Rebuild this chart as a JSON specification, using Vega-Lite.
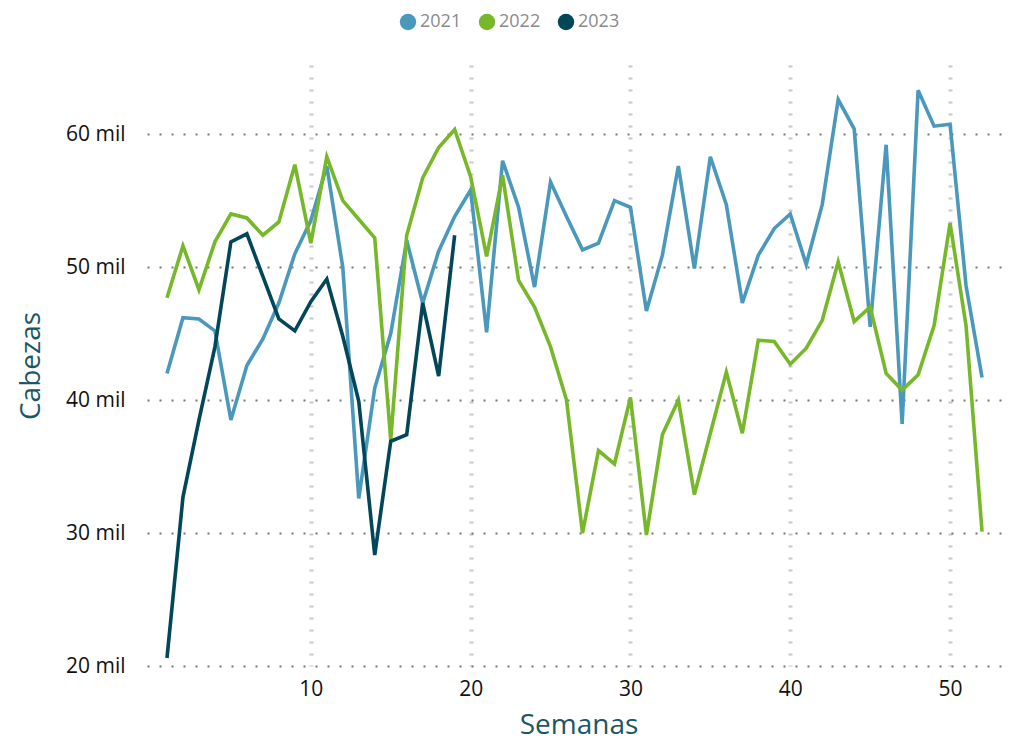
{
  "$schema": "https://vega.github.io/schema/vega-lite/v6.json",
  "width": 863,
  "height": 601,
  "autosize": {"type": "none"},
  "padding": {"left": 147, "top": 65, "right": 3, "bottom": 74},
  "background": "white",
  "config": {
    "view": {"stroke": null},
    "font": "Open Sans"
  },
  "data": {
    "values": [
      {"Semana":1,"Año":"2021","Cabezas":42000},{"Semana":2,"Año":"2021","Cabezas":46200},{"Semana":3,"Año":"2021","Cabezas":46100},{"Semana":4,"Año":"2021","Cabezas":45200},{"Semana":5,"Año":"2021","Cabezas":38500},{"Semana":6,"Año":"2021","Cabezas":42600},{"Semana":7,"Año":"2021","Cabezas":44600},{"Semana":8,"Año":"2021","Cabezas":47300},{"Semana":9,"Año":"2021","Cabezas":51000},{"Semana":10,"Año":"2021","Cabezas":53500},{"Semana":11,"Año":"2021","Cabezas":57600},{"Semana":12,"Año":"2021","Cabezas":50000},{"Semana":13,"Año":"2021","Cabezas":32600},{"Semana":14,"Año":"2021","Cabezas":40900},{"Semana":15,"Año":"2021","Cabezas":45000},{"Semana":16,"Año":"2021","Cabezas":52000},{"Semana":17,"Año":"2021","Cabezas":47300},{"Semana":18,"Año":"2021","Cabezas":51200},{"Semana":19,"Año":"2021","Cabezas":53800},{"Semana":20,"Año":"2021","Cabezas":55800},{"Semana":21,"Año":"2021","Cabezas":45100},{"Semana":22,"Año":"2021","Cabezas":58000},{"Semana":23,"Año":"2021","Cabezas":54500},{"Semana":24,"Año":"2021","Cabezas":48500},{"Semana":25,"Año":"2021","Cabezas":56400},{"Semana":26,"Año":"2021","Cabezas":53800},{"Semana":27,"Año":"2021","Cabezas":51300},{"Semana":28,"Año":"2021","Cabezas":51800},{"Semana":29,"Año":"2021","Cabezas":55000},{"Semana":30,"Año":"2021","Cabezas":54500},{"Semana":31,"Año":"2021","Cabezas":46700},{"Semana":32,"Año":"2021","Cabezas":50900},{"Semana":33,"Año":"2021","Cabezas":57600},{"Semana":34,"Año":"2021","Cabezas":49900},{"Semana":35,"Año":"2021","Cabezas":58300},{"Semana":36,"Año":"2021","Cabezas":54700},{"Semana":37,"Año":"2021","Cabezas":47300},{"Semana":38,"Año":"2021","Cabezas":50900},{"Semana":39,"Año":"2021","Cabezas":52900},{"Semana":40,"Año":"2021","Cabezas":54000},{"Semana":41,"Año":"2021","Cabezas":50200},{"Semana":42,"Año":"2021","Cabezas":54700},{"Semana":43,"Año":"2021","Cabezas":62600},{"Semana":44,"Año":"2021","Cabezas":60400},{"Semana":45,"Año":"2021","Cabezas":45500},{"Semana":46,"Año":"2021","Cabezas":59200},{"Semana":47,"Año":"2021","Cabezas":38200},{"Semana":48,"Año":"2021","Cabezas":63300},{"Semana":49,"Año":"2021","Cabezas":60600},{"Semana":50,"Año":"2021","Cabezas":60750},{"Semana":51,"Año":"2021","Cabezas":48600},{"Semana":52,"Año":"2021","Cabezas":41700},
      {"Semana":1,"Año":"2022","Cabezas":47700},{"Semana":2,"Año":"2022","Cabezas":51600},{"Semana":3,"Año":"2022","Cabezas":48300},{"Semana":4,"Año":"2022","Cabezas":51900},{"Semana":5,"Año":"2022","Cabezas":54000},{"Semana":6,"Año":"2022","Cabezas":53700},{"Semana":7,"Año":"2022","Cabezas":52400},{"Semana":8,"Año":"2022","Cabezas":53400},{"Semana":9,"Año":"2022","Cabezas":57700},{"Semana":10,"Año":"2022","Cabezas":51800},{"Semana":11,"Año":"2022","Cabezas":58300},{"Semana":12,"Año":"2022","Cabezas":55000},{"Semana":13,"Año":"2022","Cabezas":53600},{"Semana":14,"Año":"2022","Cabezas":52200},{"Semana":15,"Año":"2022","Cabezas":37000},{"Semana":16,"Año":"2022","Cabezas":52400},{"Semana":17,"Año":"2022","Cabezas":56700},{"Semana":18,"Año":"2022","Cabezas":59000},{"Semana":19,"Año":"2022","Cabezas":60350},{"Semana":20,"Año":"2022","Cabezas":56800},{"Semana":21,"Año":"2022","Cabezas":50800},{"Semana":22,"Año":"2022","Cabezas":56900},{"Semana":23,"Año":"2022","Cabezas":49000},{"Semana":24,"Año":"2022","Cabezas":47000},{"Semana":25,"Año":"2022","Cabezas":44000},{"Semana":26,"Año":"2022","Cabezas":40000},{"Semana":27,"Año":"2022","Cabezas":30000},{"Semana":28,"Año":"2022","Cabezas":36200},{"Semana":29,"Año":"2022","Cabezas":35200},{"Semana":30,"Año":"2022","Cabezas":40200},{"Semana":31,"Año":"2022","Cabezas":29850},{"Semana":32,"Año":"2022","Cabezas":37400},{"Semana":33,"Año":"2022","Cabezas":40000},{"Semana":34,"Año":"2022","Cabezas":32900},{"Semana":35,"Año":"2022","Cabezas":37500},{"Semana":36,"Año":"2022","Cabezas":42100},{"Semana":37,"Año":"2022","Cabezas":37500},{"Semana":38,"Año":"2022","Cabezas":44500},{"Semana":39,"Año":"2022","Cabezas":44400},{"Semana":40,"Año":"2022","Cabezas":42700},{"Semana":41,"Año":"2022","Cabezas":43900},{"Semana":42,"Año":"2022","Cabezas":46000},{"Semana":43,"Año":"2022","Cabezas":50400},{"Semana":44,"Año":"2022","Cabezas":45900},{"Semana":45,"Año":"2022","Cabezas":47000},{"Semana":46,"Año":"2022","Cabezas":42000},{"Semana":47,"Año":"2022","Cabezas":40750},{"Semana":48,"Año":"2022","Cabezas":41900},{"Semana":49,"Año":"2022","Cabezas":45600},{"Semana":50,"Año":"2022","Cabezas":53300},{"Semana":51,"Año":"2022","Cabezas":45600},{"Semana":52,"Año":"2022","Cabezas":30100},
      {"Semana":1,"Año":"2023","Cabezas":20600},{"Semana":2,"Año":"2023","Cabezas":32700},{"Semana":3,"Año":"2023","Cabezas":38500},{"Semana":4,"Año":"2023","Cabezas":44000},{"Semana":5,"Año":"2023","Cabezas":51900},{"Semana":6,"Año":"2023","Cabezas":52500},{"Semana":7,"Año":"2023","Cabezas":49300},{"Semana":8,"Año":"2023","Cabezas":46100},{"Semana":9,"Año":"2023","Cabezas":45200},{"Semana":10,"Año":"2023","Cabezas":47400},{"Semana":11,"Año":"2023","Cabezas":49100},{"Semana":12,"Año":"2023","Cabezas":44800},{"Semana":13,"Año":"2023","Cabezas":39900},{"Semana":14,"Año":"2023","Cabezas":28350},{"Semana":15,"Año":"2023","Cabezas":36900},{"Semana":16,"Año":"2023","Cabezas":37400},{"Semana":17,"Año":"2023","Cabezas":47300},{"Semana":18,"Año":"2023","Cabezas":41800},{"Semana":19,"Año":"2023","Cabezas":52400}
    ]
  },
  "mark": {"type": "line", "strokeWidth": 3.6, "clip": false},
  "encoding": {
    "x": {
      "field": "Semana",
      "type": "quantitative",
      "scale": {"domain": [-0.25, 53.75], "nice": false, "zero": false},
      "axis": {
        "title": "Semanas",
        "values": [10, 20, 30, 40, 50],
        "domain": false,
        "ticks": false,
        "labelFontSize": 21,
        "labelColor": "#111111",
        "labelPadding": 12,
        "titleFontSize": 28,
        "titleFontWeight": "normal",
        "titleColor": "#1b5667",
        "titlePadding": 12,
        "grid": true,
        "gridColor": "#c8c8c8",
        "gridWidth": 4,
        "gridDash": [2, 10]
      }
    },
    "y": {
      "field": "Cabezas",
      "type": "quantitative",
      "scale": {"domain": [20000, 65200], "nice": false, "zero": false},
      "axis": {
        "title": "Cabezas",
        "values": [20000, 30000, 40000, 50000, 60000],
        "labelExpr": "datum.value / 1000 + ' mil'",
        "domain": false,
        "ticks": false,
        "labelFontSize": 21,
        "labelColor": "#111111",
        "labelPadding": 22,
        "titleFontSize": 28,
        "titleFontWeight": "normal",
        "titleColor": "#1b5667",
        "titlePadding": 20,
        "grid": true,
        "gridColor": "#777777",
        "gridWidth": 2,
        "gridDash": [2, 10]
      }
    },
    "color": {
      "field": "Año",
      "type": "nominal",
      "scale": {"domain": ["2021", "2022", "2023"], "range": ["#4a98bc", "#76b82a", "#024659"]},
      "legend": {
        "title": null,
        "orient": "none",
        "direction": "horizontal",
        "legendX": 252,
        "legendY": -52,
        "symbolType": "circle",
        "symbolSize": 270,
        "labelFontSize": 18,
        "labelColor": "#8a8a8a",
        "labelOffset": 3,
        "columnPadding": 16,
        "encode": {
          "symbols": {
            "update": {
              "fill": {"scale": "color", "field": "value"},
              "fillOpacity": {"value": 1},
              "strokeWidth": {"value": 0}
            }
          }
        }
      }
    }
  }
}
